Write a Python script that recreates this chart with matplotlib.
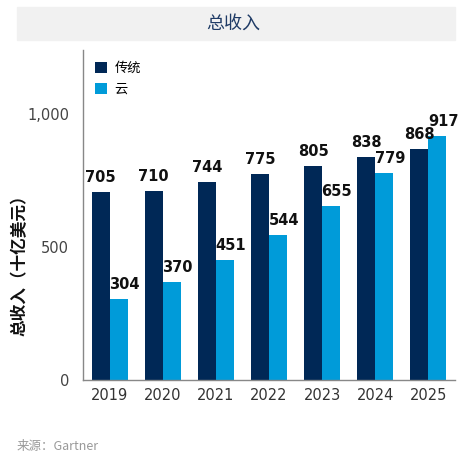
import numpy as np
import matplotlib
matplotlib.use("Agg")
from matplotlib import pyplot as plt
from matplotlib.patches import Rectangle

plt.rcParams['font.family'] = ['Noto Sans CJK SC', 'DejaVu Sans']

years = ["2019", "2020", "2021", "2022", "2023", "2024", "2025"]
traditional = [705, 710, 744, 775, 805, 838, 868]
cloud = [304, 370, 451, 544, 655, 779, 917]
series_names = ["传统", "云"]
yticks = [0, 500, 1000]
ytick_labels = ["0", "500", "1,000"]

dark = "#002856"
light = "#009bd9"

fig = plt.figure(figsize=(4.6, 4.61), dpi=100)
ax = fig.add_axes([83/460, 1-380/461, 372/460, 330/461])

x = np.arange(len(years))
w = 0.34
ax.bar(x - w/2, traditional, w, color=dark, label=series_names[0])
ax.bar(x + w/2, cloud, w, color=light, label=series_names[1])

# value labels above bars
for xi, v in zip(x, traditional):
    ax.annotate(str(v), (xi - w/2, v), xytext=(0, 5), textcoords="offset points",
                ha="center", va="bottom", fontsize=10.5, fontweight="bold",
                family="DejaVu Sans", color="#111111", annotation_clip=False)
for xi, v in zip(x, cloud):
    ax.annotate(str(v), (xi + w/2, v), xytext=(4, 5), textcoords="offset points",
                ha="center", va="bottom", fontsize=10.5, fontweight="bold",
                family="DejaVu Sans", color="#111111", annotation_clip=False)

ax.set_xlim(-0.5, 6.5)
ax.set_ylim(0, 1240)
ax.set_xticks(x)
ax.set_xticklabels(years, fontsize=10.5, color="#333333", family="DejaVu Sans")
ax.set_yticks(yticks)
ax.set_yticklabels(ytick_labels, fontsize=10.5, color="#444444", family="DejaVu Sans")
ax.tick_params(length=0, pad=10)
ax.tick_params(axis="x", pad=6)
for s in ["top", "right"]:
    ax.spines[s].set_visible(False)
for s in ["left", "bottom"]:
    ax.spines[s].set_color("#888888")
    ax.spines[s].set_linewidth(1)

ax.legend(loc="upper left", bbox_to_anchor=(0.0, 1.0), frameon=False,
          fontsize=9.5, handlelength=0.9, handleheight=0.9,
          handletextpad=0.6, labelspacing=0.6)

fig.text(20/460, 1-261/461, "总收入（十亿美元）", rotation=90, ha="center", va="center",
         fontsize=12, fontweight="bold", color="#111111")

fig.patches.append(Rectangle((17/460, 1-40/461), 438/460, 33/461,
                             transform=fig.transFigure, color="#f1f1f1", zorder=0))
fig.text(233/460, 1-24/461, "总收入", ha="center", va="center",
         fontsize=13, color="#1f3b66")

fig.text(17/460, 1-446/461, "来源：Gartner", ha="left", va="center",
         fontsize=9, color="#999999")

fig.savefig("out.png", dpi=100)
